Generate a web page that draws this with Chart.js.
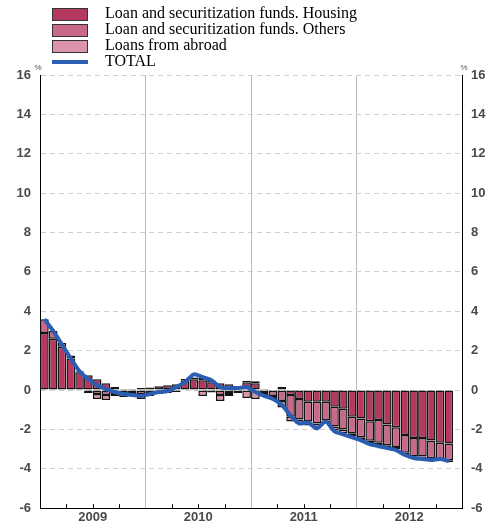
<!DOCTYPE html>
<html><head><meta charset="utf-8">
<script src="https://cdn.jsdelivr.net/npm/chart.js@4/dist/chart.umd.min.js"></script>
<style>
html,body{margin:0;padding:0;background:#fff;}
#wrap{position:relative;width:502px;height:525px;}
#c{position:absolute;left:0;top:0;}
#legend{position:absolute;left:0;top:0;font-family:"Liberation Serif","Times New Roman",serif;font-size:16px;color:#000;}
.row{position:absolute;left:52px;height:16px;white-space:nowrap;}
.box{position:absolute;left:0;top:2px;width:34px;height:11px;border:1px solid #333;}
.ln{position:absolute;left:0;top:6px;width:36px;height:4px;background:#2b5db2;}
.txt{position:absolute;left:53px;top:-3px;line-height:19px;}
</style></head>
<body><div id="wrap"><canvas id="c" width="502" height="525"></canvas>
<div id="legend"></div></div>
<script>
const months = [];
for (const y of [2009,2010,2011,2012]) for (let m=1;m<=12;m++) months.push(y+'-'+(m<10?'0':'')+m);
const yearLabels = ['2009','2010','2011','2012'];
const yTicks = [-6,-4,-2,0,2,4,6,8,10,12,14,16];

const housing = [
 2.9,2.6,2.2,1.6,0.9,0.75,0.55,0.35,0.15,0.05,0.05,0.1,
 0.13,0.19,0.25,0.3,0.5,0.55,0.5,0.4,0.35,0.3,0.2,0.4,
 0.35,0.05,-0.05,0.15,-0.25,-0.45,-0.6,-0.6,-0.6,-0.85,-0.95,-1.35,
 -1.45,-1.58,-1.52,-1.75,-1.89,-2.28,-2.43,-2.43,-2.56,-2.68,-2.72,null];
const others = [
 0.7,0.4,0.2,0.15,0.05,-0.05,-0.2,-0.25,-0.15,-0.15,-0.15,-0.2,
 -0.1,-0.1,-0.05,-0.05,0.06,0.09,0.14,0.07,-0.25,-0.15,-0.05,0.07,
 0.1,-0.15,-0.25,-0.55,-1.1,-1.05,-1.0,-1.1,-0.95,-1.0,-1.05,-0.85,
 -0.95,-1.0,-1.15,-1.05,-1.0,-0.9,-0.95,-0.95,-0.9,-0.82,-0.85,null];
const abroad = [
 0,0,0,0,0,-0.1,-0.25,-0.25,-0.15,-0.2,-0.15,-0.25,
 -0.2,-0.1,-0.1,-0.05,0,-0.03,-0.3,-0.12,-0.3,-0.15,-0.1,-0.4,
 -0.45,-0.15,-0.15,-0.33,-0.25,-0.2,-0.2,-0.2,-0.15,-0.2,-0.2,-0.15,
 -0.15,-0.15,-0.15,-0.15,-0.12,-0.12,-0.12,-0.12,-0.1,-0.1,-0.1,null];
const total = [
 3.6,3.0,2.3,1.6,0.95,0.55,0.25,0.05,-0.1,-0.2,-0.25,-0.3,
 -0.2,-0.1,-0.05,0.15,0.4,0.8,0.65,0.5,0.15,0.1,0.1,0.15,
 -0.1,-0.3,-0.45,-0.75,-1.3,-1.7,-1.65,-1.95,-1.6,-2.1,-2.25,-2.4,
 -2.55,-2.75,-2.85,-2.95,-3.05,-3.3,-3.45,-3.5,-3.55,-3.5,-3.6,null];

const seriesNames = ['Loan and securitization funds. Housing','Loan and securitization funds. Others','Loans from abroad','TOTAL'];
const colors = ['#b5385f','#c8688a','#dc94ad','#2b5db2'];

// HTML legend
const lg = document.getElementById('legend');
seriesNames.forEach((n,i)=>{
  const r = document.createElement('div'); r.className='row'; r.style.top=(6+i*16)+'px';
  const b = document.createElement('div');
  if(i<3){ b.className='box'; b.style.background=colors[i]; } else { b.className='ln'; }
  const t = document.createElement('div'); t.className='txt'; t.textContent=n;
  r.appendChild(b); r.appendChild(t); lg.appendChild(r);
});

const extras = {
  id:'extras',
  afterDraw(chart){
    const ctx = chart.ctx, ca = chart.chartArea, xs = chart.scales.x;
    ctx.save();
    ctx.strokeStyle='#000'; ctx.lineWidth=1;
    for(let i=3;i<48;i+=3){
      if(i%12===0) continue;
      const x = Math.round((xs.getPixelForValue(i-1)+xs.getPixelForValue(i))/2)+0.5;
      ctx.beginPath(); ctx.moveTo(x,ca.bottom); ctx.lineTo(x,ca.bottom-4); ctx.stroke();
    }
    ctx.fillStyle='#555'; ctx.font='8px "Liberation Sans", Arial, sans-serif';
    ctx.textAlign='center'; ctx.textBaseline='bottom';
    ctx.fillText('%', ca.left-2, ca.top-3);
    ctx.fillText('%', ca.right+2, ca.top-3);
    ctx.restore();
  }
};

const tickFont = {family:'"Liberation Sans", Arial, sans-serif', size:13, weight:'bold'};
const yCommon = {
  type:'linear', min:-6, max:16,
  afterBuildTicks(s){ s.ticks = yTicks.map(v=>({value:v})); },
  ticks:{ color:'#4a4a4a', font:tickFont, padding:9 },
};
const barStyle = { borderColor:'#141414', borderWidth:1.5, borderSkipped:false, order:1, stack:'s' };

new Chart(document.getElementById('c'), {
  type:'bar',
  data:{
    labels: months,
    datasets:[
      {type:'line', label:seriesNames[3], data:total, borderColor:colors[3], borderWidth:4, pointRadius:0, tension:0.25, order:0, yAxisID:'y'},
      {label:seriesNames[0], data:housing, backgroundColor:colors[0], ...barStyle},
      {label:seriesNames[1], data:others, backgroundColor:colors[1], ...barStyle},
      {label:seriesNames[2], data:abroad, backgroundColor:colors[2], ...barStyle},
    ]
  },
  options:{
    responsive:false, animation:false,
    layout:{ padding:{ top:75, left:0, right:0, bottom:0 } },
    plugins:{ legend:{display:false}, tooltip:{enabled:false} },
    datasets:{ bar:{ categoryPercentage:1.0, barPercentage:0.98 } },
    scales:{
      x:{
        stacked:true, offset:true,
        grid:{ offset:true, drawTicks:false,
          color:(c)=> (c.index%12===0 && c.index>0) ? '#bdbdbd' : 'rgba(0,0,0,0)', lineWidth:1 },
        border:{ display:true, color:'#000', width:1 },
        ticks:{ autoSkip:false, maxRotation:0, minRotation:0, color:'#4a4a4a', font:tickFont, padding:1,
          labelOffset:-4.4,
          callback:(v,i)=> (i%12===6) ? yearLabels[Math.floor(i/12)] : '' },
        afterFit(s){ s.height = 15; }
      },
      y:{ ...yCommon, position:'left', stacked:true,
        grid:{ color:'#cfcfcf', drawTicks:false, lineWidth:1 },
        border:{ display:true, color:'#000', width:1, dash:[5,4] },
        afterFit(s){ s.width = 40; } },
      y2:{ ...yCommon, position:'right',
        grid:{ drawOnChartArea:false, drawTicks:false },
        border:{ display:true, color:'#000', width:1 },
        afterFit(s){ s.width = 40; } }
    }
  },
  plugins:[extras]
});
</script></body></html>
